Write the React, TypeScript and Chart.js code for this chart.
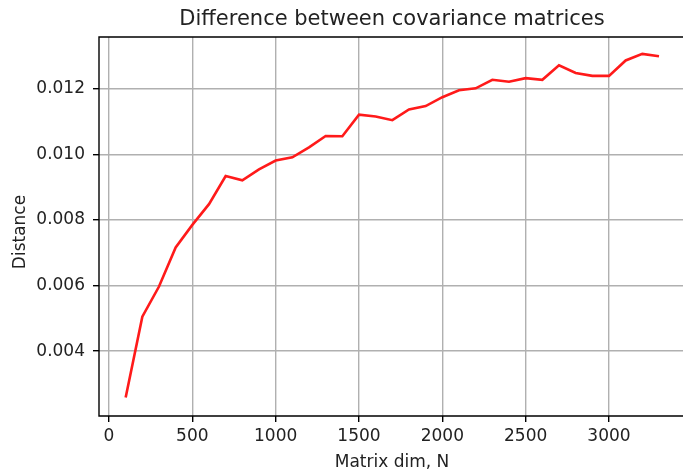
import React, { useEffect, useRef } from "react";
import { Chart, registerables } from "chart.js";

Chart.register(...registerables);

const matrixDims = [100, 200, 300, 400, 500, 600, 700, 800, 900, 1000, 1100, 1200, 1300, 1400, 1500, 1600, 1700, 1800, 1900, 2000, 2100, 2200, 2300, 2400, 2500, 2600, 2700, 2800, 2900, 3000, 3100, 3200, 3300];
const distances = [0.00259, 0.00505, 0.00597, 0.00716, 0.00785, 0.00848, 0.00934, 0.00921, 0.00954, 0.00981, 0.00991, 0.01021, 0.01056, 0.01055, 0.01121, 0.01115, 0.01104, 0.01137, 0.01147, 0.01174, 0.01195, 0.01201, 0.01227, 0.01221, 0.01232, 0.01227, 0.01271, 0.01248, 0.01239, 0.01239, 0.01286, 0.01306, 0.01299];
const xTicks = [0, 500, 1000, 1500, 2000, 2500, 3000];
const yTicks = [0.004, 0.006, 0.008, 0.01, 0.012];

const TITLE = "Difference between covariance matrices";
const X_LABEL = "Matrix dim, N";
const Y_LABEL = "Distance";
const FONT = "'DejaVu Sans', sans-serif";

export default function App() {
  const ref = useRef<HTMLCanvasElement | null>(null);

  useEffect(() => {
    document.body.style.margin = "0";
    document.body.style.overflow = "hidden";
    const canvas = ref.current!;
    const decor = {
      id: "decor",
      afterDraw(chart: any) {
        const ctx = chart.ctx;
        const a = chart.chartArea;
        ctx.save();
        ctx.strokeStyle = "#000";
        ctx.lineWidth = 1.4;
        ctx.beginPath();
        ctx.moveTo(a.right + 3, a.top);
        ctx.lineTo(a.left, a.top);
        ctx.lineTo(a.left, a.bottom);
        ctx.lineTo(a.right + 3, a.bottom);
        ctx.stroke();
        ctx.fillStyle = "#222";
        ctx.textAlign = "center";
        ctx.textBaseline = "alphabetic";
        ctx.font = `21px ${FONT}`;
        ctx.fillText(TITLE, 392, 25);
        ctx.font = `17px ${FONT}`;
        ctx.fillText(X_LABEL, 392, 467);
        ctx.translate(25, 232);
        ctx.rotate(-Math.PI / 2);
        ctx.fillText(Y_LABEL, 0, 0);
        ctx.restore();
      },
    };
    const chart = new Chart(canvas, {
      type: "line",
      data: {
        datasets: [
          {
            data: matrixDims.map((x, i) => ({ x, y: distances[i] })),
            borderColor: "#ff1a1a",
            borderWidth: 2.6,
            pointRadius: 0,
            tension: 0,
            fill: false,
          },
        ],
      },
      options: {
        responsive: false,
        animation: false,
        layout: { padding: { top: 37, left: 0, right: 0, bottom: 0 } },
        plugins: { legend: { display: false }, tooltip: { enabled: false }, title: { display: false } },
        scales: {
          x: {
            type: "linear",
            min: -60,
            max: 3444,
            afterFit: (s: any) => { s.height = 54; },
            afterBuildTicks: (s: any) => { s.ticks = xTicks.map((v) => ({ value: v })); },
            ticks: {
              font: { family: FONT, size: 17 },
              color: "#222",
              padding: 4,
              maxRotation: 0,
              autoSkip: false,
              callback: (v: any) => String(v),
            },
            grid: { color: "#b0b0b0", lineWidth: 1.4, tickLength: 6, drawTicks: true, tickColor: "#000" },
            border: { display: false },
          },
          y: {
            type: "linear",
            min: 0.002025,
            max: 0.013575,
            afterFit: (s: any) => { s.width = 99; },
            afterBuildTicks: (s: any) => { s.ticks = yTicks.map((v) => ({ value: v })); },
            ticks: {
              font: { family: FONT, size: 17 },
              color: "#222",
              padding: 8,
              autoSkip: false,
              callback: (v: any) => Number(v).toFixed(3),
            },
            grid: { color: "#b0b0b0", lineWidth: 1.4, tickLength: 6, drawTicks: true, tickColor: "#000" },
            border: { display: false },
          },
        },
      },
      plugins: [decor],
    });
    return () => chart.destroy();
  }, []);

  return <canvas ref={ref} width={683} height={470} style={{ display: "block" }} />;
}
